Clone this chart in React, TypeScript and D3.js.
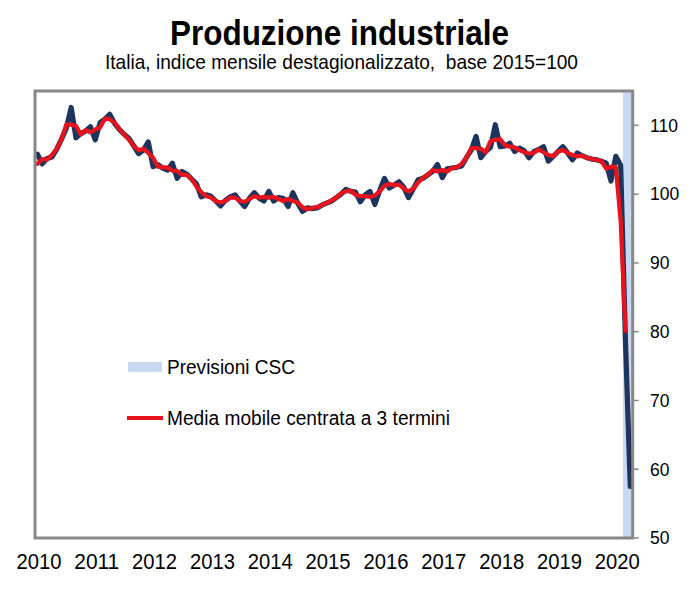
import React from "react";
import * as d3 from "d3";

const W = 696;
const H = 589;

// tick labels on the category axis (one per January)
const yearLabels = ["2010", "2011", "2012", "2013", "2014", "2015", "2016", "2017", "2018", "2019", "2020"];

// monthly index, Jan 2010 .. Apr 2020 (last two months = CSC forecast)
const produzione = [
  105.8, 104.4, 105.2, 105.4, 106.5, 108.0, 109.6, 112.6, 108.2, 108.8, 109.2, 109.8,
  107.9, 110.4, 110.9, 111.6, 110.3, 109.4, 108.7, 108.1, 107.0, 105.9, 106.4, 107.6,
  104.0, 104.3, 103.8, 103.5, 104.5, 102.3, 103.3, 102.9, 102.2, 101.5, 99.6, 99.9,
  99.7, 99.0, 98.3, 99.1, 99.6, 99.9, 99.0, 98.2, 99.4, 100.2, 99.4, 99.0,
  100.4, 99.0, 99.5, 99.4, 98.2, 100.2, 98.7, 97.5, 98.0, 97.9, 98.0, 98.4,
  98.7, 99.0, 99.5, 100.0, 100.7, 100.4, 100.3, 98.9, 99.9, 100.4, 98.5, 100.5,
  102.3, 100.9, 101.3, 101.8, 101.0, 99.5, 100.8, 102.1, 102.3, 102.8, 103.3, 104.3,
  102.4, 103.7, 103.8, 103.9, 104.1, 105.3, 106.4, 108.4, 105.3, 106.2, 106.8, 110.1,
  106.9, 107.0, 107.4, 106.2, 106.7, 106.3, 105.3, 106.2, 106.5, 106.9, 104.8, 105.5,
  106.2, 106.9, 106.0, 105.0, 106.0, 105.6, 105.3, 105.1, 105.0, 104.8, 104.5, 101.9,
  105.5, 104.2, 78.5, 57.5,
];

// 3-term centred moving average (Jan 2010 .. Mar 2020)
const mediaMobile = [
  104.4, 105.1, 105.0, 105.7, 106.6, 108.0, 110.1, 110.1, 109.9, 108.7, 109.3, 109.0,
  109.4, 109.7, 111.0, 110.9, 110.4, 109.5, 108.7, 107.9, 107.0, 106.4, 106.6, 106.0,
  105.3, 104.0, 103.9, 103.9, 103.4, 103.4, 102.8, 102.8, 102.2, 101.1, 100.3, 99.7,
  99.5, 99.0, 98.8, 99.0, 99.5, 99.5, 99.0, 98.9, 99.3, 99.7, 99.5, 99.6,
  99.5, 99.6, 99.3, 99.0, 99.3, 99.0, 98.8, 98.1, 97.8, 98.0, 98.1, 98.4,
  98.7, 99.1, 99.5, 100.1, 100.4, 100.5, 99.9, 99.7, 99.7, 99.6, 99.8, 100.4,
  101.2, 101.5, 101.3, 101.4, 100.8, 100.4, 100.8, 101.7, 102.4, 102.8, 103.5, 103.3,
  103.5, 103.3, 103.8, 103.9, 104.4, 105.3, 106.7, 106.7, 106.6, 106.1, 107.7, 107.9,
  108.0, 107.1, 106.9, 106.8, 106.4, 106.1, 105.9, 106.0, 106.5, 106.1, 105.7, 105.5,
  106.2, 106.4, 106.0, 105.7, 105.5, 105.6, 105.3, 105.1, 105.0, 104.8, 103.7, 104.0,
  103.9, 96.1, 80.1,
];

const forecastMonths = 2;

const legendLabels = ["Previsioni CSC", "Media mobile centrata a 3 termini"];

const FONT = "'Liberation Sans', Arial, sans-serif";
const NAVY = "#1d355c";
const RED = "#e8131c";
const SHADE = "#c6d9f0";
const GRID = "#878787";

export default function App() {
  const plot = { left: 35, right: 632.7, top: 91, bottom: 538 };

  const months = d3.range(produzione.length);
  const x = d3.scaleBand<number>().domain(months).range([plot.left, plot.right]).padding(0);
  const cx = (i: number) => (x(i) ?? 0) + x.bandwidth() / 2;
  const y = d3.scaleLinear().domain([50, 115]).range([plot.bottom, plot.top]);

  const line = d3
    .line<number>()
    .x((_, i) => cx(i))
    .y((d) => y(d));

  const firstForecast = produzione.length - forecastMonths;
  const shadeX = x(firstForecast) ?? 0;

  const yTicks = y.ticks(7).filter((t) => t <= 110);

  return (
    <svg
      width={W}
      height={H}
      style={{ position: "absolute", left: 0, top: 0, display: "block", background: "#fff" }}
      fontFamily={FONT}
    >
      <rect width={W} height={H} fill="#fff" />

      {/* titles */}
      <text x={339.5} y={45} textAnchor="middle" fontSize={35} fontWeight="bold" textLength={339} lengthAdjust="spacingAndGlyphs">
        Produzione industriale
      </text>
      <text x={341.5} y={69} textAnchor="middle" fontSize={21} textLength={473} lengthAdjust="spacingAndGlyphs" xmlSpace="preserve">
        {"Italia, indice mensile destagionalizzato,  base 2015=100"}
      </text>

      {/* forecast band */}
      <rect
        x={shadeX}
        y={plot.top}
        width={plot.right - shadeX}
        height={plot.bottom - plot.top}
        fill={SHADE}
      />

      {/* series */}
      <path d={line(produzione) ?? ""} fill="none" stroke={NAVY} strokeWidth={5.2} strokeLinejoin="round" strokeLinecap="round" />
      <path d={line(mediaMobile) ?? ""} fill="none" stroke={RED} strokeWidth={4.2} strokeLinejoin="round" strokeLinecap="round" />

      {/* frame */}
      <rect
        x={plot.left}
        y={plot.top}
        width={plot.right - plot.left}
        height={plot.bottom - plot.top}
        fill="none"
        stroke={GRID}
        strokeWidth={3}
      />

      {/* right value axis */}
      {yTicks.map((t) => (
        <g key={t}>
          <line x1={plot.right} x2={plot.right + 6} y1={y(t)} y2={y(t)} stroke={GRID} strokeWidth={1.5} />
          <text x={650} y={y(t)} dy="0.36em" fontSize={17.5} fill="#000">
            {t}
          </text>
        </g>
      ))}

      {/* category axis labels */}
      {yearLabels.map((lab, k) => (
        <text
          key={lab}
          x={cx(k * 12) + 1.5}
          y={569}
          textAnchor="middle"
          fontSize={22}
          textLength={45}
          lengthAdjust="spacingAndGlyphs"
          fill="#000"
        >
          {lab}
        </text>
      ))}

      {/* legend */}
      <rect x={128} y={362} width={34} height={10} fill={SHADE} />
      <text x={167} y={374} fontSize={19.5} textLength={128} lengthAdjust="spacingAndGlyphs">
        {legendLabels[0]}
      </text>
      <line x1={127} x2={163} y1={418} y2={418} stroke={RED} strokeWidth={4} />
      <text x={167} y={425} fontSize={19.5} textLength={283} lengthAdjust="spacingAndGlyphs">
        {legendLabels[1]}
      </text>
    </svg>
  );
}
